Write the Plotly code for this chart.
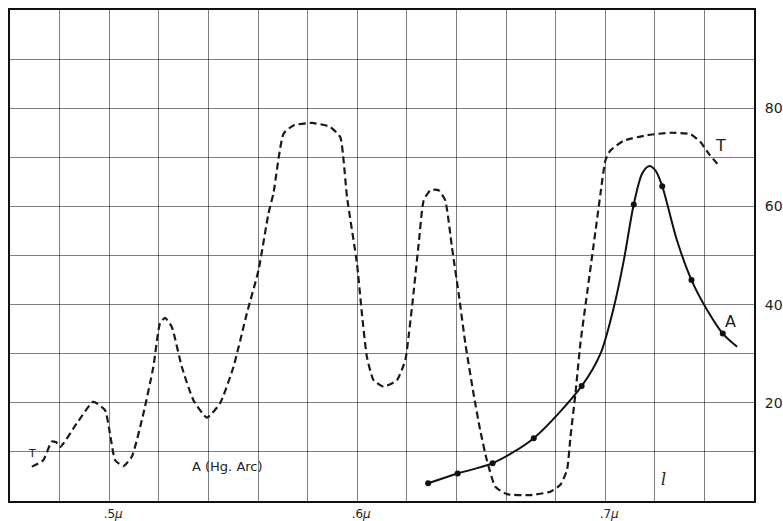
import numpy as np
import plotly.graph_objects as go

# Transmission curve T (dashed), wavelength in microns, percent
T_x = [0.4688, 0.4734, 0.4768, 0.4785, 0.4802, 0.4869, 0.4936, 0.4983, 0.5003, 0.5024,
       0.5057, 0.5091, 0.5138, 0.5178, 0.5205, 0.5225, 0.5252, 0.5293, 0.5340, 0.5394,
       0.5447, 0.5501, 0.5555, 0.5602, 0.5642, 0.5662, 0.5703, 0.5743, 0.5817, 0.5891,
       0.5932, 0.5945, 0.5959, 0.5999, 0.6019, 0.6039, 0.6066, 0.6106, 0.6160, 0.6194,
       0.6207, 0.6227, 0.6248, 0.6268, 0.6295, 0.6328, 0.6355, 0.6382, 0.6409, 0.6436,
       0.6469, 0.6496, 0.6523, 0.6557, 0.6604, 0.6698, 0.6779, 0.6819, 0.6846, 0.6860,
       0.6880, 0.6900, 0.6927, 0.6954, 0.6981, 0.7001, 0.7021, 0.7075, 0.7169, 0.7263,
       0.7344, 0.7384, 0.7418, 0.7452]
T_y = [7.0, 8.3, 12.1, 12.0, 11.0, 15.8, 20.2, 18.5, 13.8, 8.3,
       7.1, 9.0, 17.8, 27.3, 36.2, 37.3, 35.5, 27.3, 20.5, 17.0,
       19.9, 27.3, 38.2, 47.0, 58.5, 62.6, 74.8, 76.5, 77.0, 76.2,
       74.1, 69.4, 61.9, 48.4, 38.2, 29.4, 24.6, 23.3, 24.6, 28.7,
       33.4, 42.3, 52.4, 61.2, 63.3, 63.3, 61.2, 51.7, 42.3, 32.1,
       21.9, 14.4, 8.3, 2.9, 1.4, 1.2, 1.9, 3.3, 6.3, 13.1,
       21.9, 32.1, 42.3, 52.4, 62.6, 69.4, 71.4, 73.4, 74.5, 75.0,
       74.7, 73.1, 70.7, 68.7]

# Absorption curve A (solid line) and its observed points
A_x = [0.6286, 0.6405, 0.6546, 0.6712, 0.6905, 0.6981, 0.7035, 0.7075, 0.7115, 0.7149,
       0.7176, 0.7203, 0.7230, 0.7290, 0.7348, 0.7411, 0.7474, 0.7532]
A_y = [3.6, 5.6, 7.7, 12.8, 23.4, 30.0, 39.5, 49.0, 60.4, 66.7,
       68.2, 67.3, 64.1, 53.0, 45.0, 38.9, 34.1, 31.4]
A_pts_x = [0.6286, 0.6405, 0.6546, 0.6712, 0.6905, 0.7115, 0.7230, 0.7348, 0.7474]
A_pts_y = [3.6, 5.6, 7.7, 12.8, 23.4, 60.4, 64.1, 45.0, 34.1]

# Axes
x_grid = [round(v, 2) for v in np.arange(0.46, 0.7601, 0.02)]
x_labels = {0.5: ".5<i>μ</i>", 0.6: ".6<i>μ</i>", 0.7: ".7<i>μ</i>"}
y_grid = list(range(0, 101, 10))
y_labels = {20: "20", 40: "40", 60: "60", 80: "80"}

fig = go.Figure()
fig.add_trace(go.Scatter(x=T_x, y=T_y, mode="lines",
                         line=dict(color="#1a1a1a", width=2.2, dash="7px,4px",
                                   shape="spline", smoothing=0.5),
                         hoverinfo="skip"))
fig.add_trace(go.Scatter(x=A_x, y=A_y, mode="lines",
                         line=dict(color="#111", width=2, shape="spline", smoothing=0.8),
                         hoverinfo="skip"))
fig.add_trace(go.Scatter(x=A_pts_x, y=A_pts_y, mode="markers",
                         marker=dict(color="#111", size=6),
                         hoverinfo="skip"))

font_main = "DejaVu Sans"
annots = [
    dict(x=0.7465, y=72.4, text="T", size=16),
    dict(x=0.7505, y=36.5, text="A", size=16),
    dict(x=0.4689, y=9.6, text="T", size=11),
    dict(x=0.5475, y=7.0, text="A (Hg. Arc)", size=13),
]
for a in annots:
    fig.add_annotation(x=a["x"], y=a["y"], text=a["text"], showarrow=False,
                       font=dict(family=font_main, size=a["size"], color="#222"))
fig.add_annotation(x=0.7237, y=4.3, text="<i>l</i>", showarrow=False,
                   font=dict(family="DejaVu Serif", size=16, color="#222"))

fig.update_xaxes(range=[0.46, 0.76], tickvals=x_grid,
                 ticktext=[x_labels.get(v, "") for v in x_grid],
                 showgrid=True, gridcolor="rgba(0,0,0,0.5)", gridwidth=1,
                 showline=True, linecolor="#111", linewidth=2, mirror=True,
                 ticks="", zeroline=False, automargin=False,
                 tickfont=dict(family=font_main, size=12, color="#222"),
                 ticklabelshift=4, ticklabelstandoff=1)
fig.update_yaxes(range=[0, 100], tickvals=y_grid,
                 ticktext=[y_labels.get(v, "") for v in y_grid],
                 side="right", showgrid=True, gridcolor="rgba(0,0,0,0.5)", gridwidth=1,
                 showline=True, linecolor="#111", linewidth=2, mirror=True,
                 ticks="", zeroline=False, automargin=False,
                 tickfont=dict(family=font_main, size=14, color="#222"),
                 ticklabelstandoff=6)
fig.update_layout(width=783, height=521, showlegend=False,
                  margin=dict(l=10, r=29, t=10, b=20),
                  plot_bgcolor="white", paper_bgcolor="white")
fig.write_html("out.html")
